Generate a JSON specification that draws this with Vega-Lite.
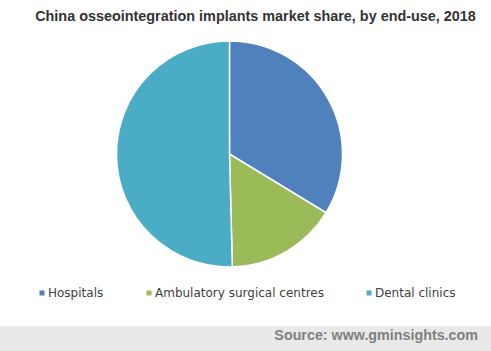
{
  "$schema": "https://vega.github.io/schema/vega-lite/v6.json",
  "padding": {"top": 8, "left": 0, "right": 0, "bottom": 0},
  "spacing": 56,
  "background": "white",
  "title": {
    "text": "China osseointegration implants market share, by end-use, 2018",
    "font": "Liberation Sans",
    "fontSize": 14.4,
    "fontWeight": "bold",
    "color": "#333333",
    "anchor": "middle",
    "dx": 10,
    "offset": 14
  },
  "config": {"view": {"stroke": null}},
  "vconcat": [
    {
      "width": 459,
      "height": 226,
      "data": {
        "values": [
          {"segment": "Hospitals", "share": 33.7, "rank": 1},
          {"segment": "Ambulatory surgical centres", "share": 15.9, "rank": 2},
          {"segment": "Dental clinics", "share": 50.4, "rank": 3}
        ]
      },
      "mark": {"type": "arc", "stroke": "white", "strokeWidth": 1.5},
      "encoding": {
        "theta": {"field": "share", "type": "quantitative", "stack": true},
        "order": {"field": "rank", "type": "quantitative"},
        "color": {
          "field": "segment",
          "type": "nominal",
          "scale": {
            "domain": ["Hospitals", "Ambulatory surgical centres", "Dental clinics"],
            "range": ["#4f81bd", "#9bbb59", "#4bacc6"]
          },
          "legend": {
            "title": null,
            "orient": "none",
            "direction": "horizontal",
            "legendX": 36,
            "legendY": 246,
            "symbolType": "square",
            "symbolSize": 25,
            "symbolStrokeWidth": 0,
            "labelFont": "DejaVu Sans",
            "labelFontSize": 12,
            "labelColor": "#404040",
            "labelOffset": 0,
            "labelLimit": 400,
            "columnPadding": 39
          }
        }
      }
    },
    {
      "width": 491,
      "height": 26,
      "view": {"fill": "#e9e9e9", "stroke": null},
      "data": {"values": [{"label": "Source: www.gminsights.com"}]},
      "mark": {
        "type": "text",
        "align": "right",
        "baseline": "middle",
        "font": "Liberation Sans",
        "fontSize": 14.3,
        "fontWeight": "bold",
        "color": "#808080",
        "dx": -13,
        "dy": -16
      },
      "encoding": {
        "text": {"field": "label"},
        "x": {"value": "width"},
        "y": {"value": "height"}
      }
    }
  ]
}
